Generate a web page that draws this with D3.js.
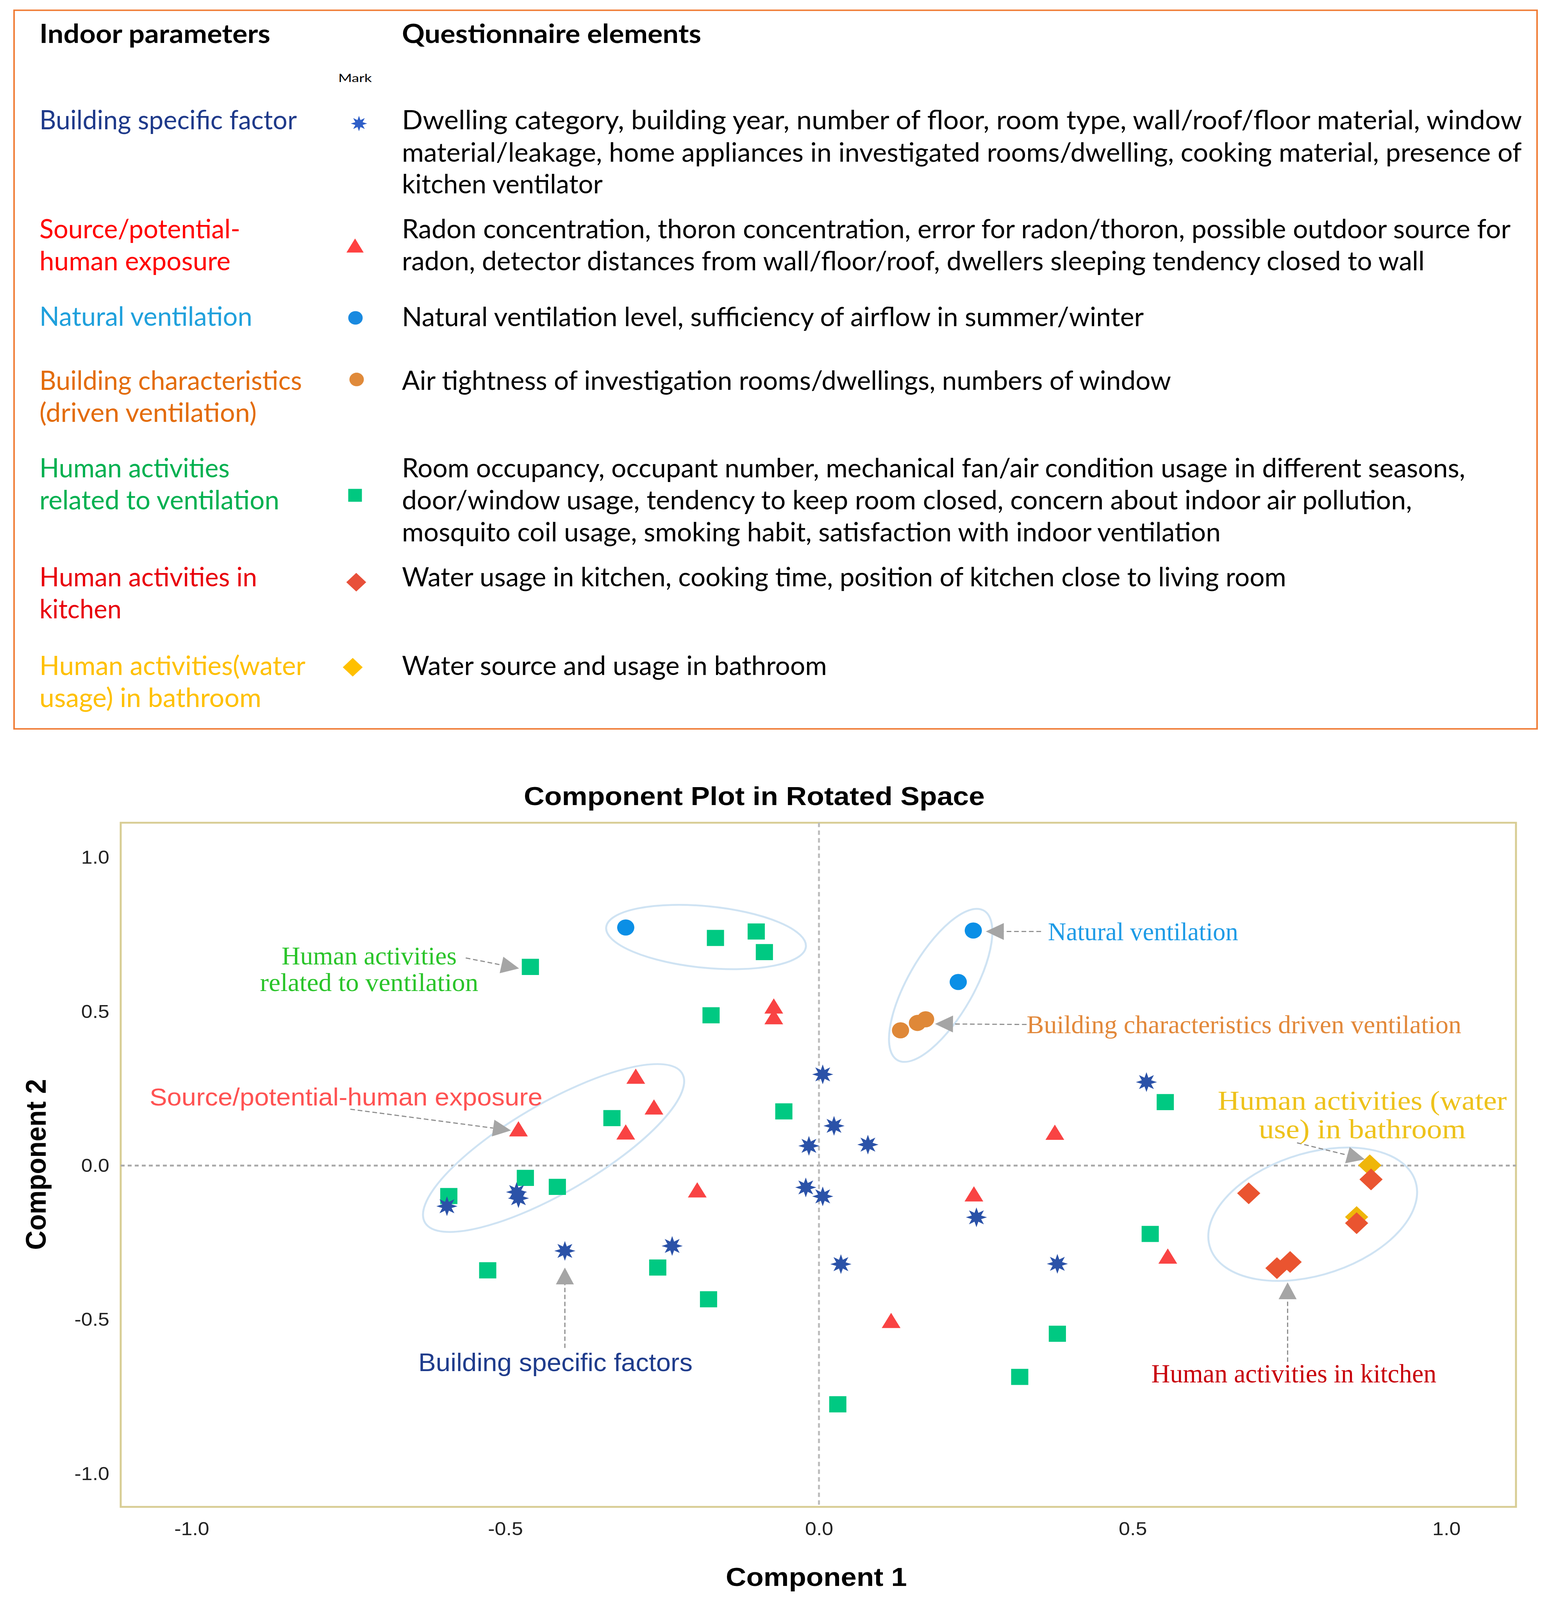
<!DOCTYPE html>
<html lang="en">
<head>
<meta charset="UTF-8">
<title>Component Plot in Rotated Space</title>
<script src="https://d3js.org/d3.v7.min.js"></script>
<style>
  html, body { margin: 0; padding: 0; width: 100%; height: 100%; overflow: hidden; background: #fff; }
  svg { display: block; }
</style>
</head>
<body>
<script>
const width = 3963, height = 4364;

// ---- table content ----
const paramNames = [
  ["Building specific factor"],
  ["Source/potential-", "human exposure"],
  ["Natural ventilation"],
  ["Building characteristics", "(driven ventilation)"],
  ["Human activities", "related to ventilation"],
  ["Human activities in", "kitchen"],
  ["Human activities(water", "usage) in bathroom"]
];
const questionnaire = [
  ["Dwelling category, building year, number of floor, room type, wall/roof/floor material, window",
   "material/leakage, home appliances in investigated rooms/dwelling, cooking material, presence of",
   "kitchen ventilator"],
  ["Radon concentration, thoron concentration, error for radon/thoron, possible outdoor source for",
   "radon, detector distances from wall/floor/roof, dwellers sleeping tendency closed to wall"],
  ["Natural ventilation level, sufficiency of airflow in summer/winter"],
  ["Air tightness of investigation rooms/dwellings, numbers of window"],
  ["Room occupancy, occupant number, mechanical fan/air condition usage in different seasons,",
   "door/window usage, tendency to keep room closed, concern about indoor air pollution,",
   "mosquito coil usage, smoking habit, satisfaction with indoor ventilation"],
  ["Water usage in kitchen, cooking time, position of kitchen close to living room"],
  ["Water source and usage in bathroom"]
];

// ---- component loadings [Component 1, Component 2] ----
const buildingSpecific = [
  [0.006, 0.296], [0.024, 0.129], [-0.016, 0.064], [0.078, 0.068], [-0.021, -0.071],
  [0.006, -0.100], [0.522, 0.271], [0.251, -0.168], [0.035, -0.320], [0.380, -0.319],
  [-0.593, -0.132], [-0.482, -0.086], [-0.479, -0.106], [-0.405, -0.277], [-0.234, -0.261]
];
const sourceExposure = [
  [-0.072, 0.510], [-0.072, 0.475], [-0.292, 0.282], [-0.263, 0.182], [-0.308, 0.101],
  [-0.479, 0.111], [-0.194, -0.087], [0.376, 0.100], [0.247, -0.100], [0.556, -0.302],
  [0.115, -0.511]
];
const naturalVentilation = [[-0.308, 0.773], [0.246, 0.763], [0.222, 0.596]];
const buildingCharacteristics = [[0.130, 0.439], [0.157, 0.463], [0.170, 0.475]];
const humanVentilation = [
  [-0.460, 0.645], [-0.165, 0.739], [-0.100, 0.760], [-0.087, 0.693], [-0.172, 0.488],
  [-0.056, 0.176], [-0.330, 0.154], [0.552, 0.206], [-0.590, -0.099], [-0.468, -0.040],
  [-0.417, -0.069], [-0.528, -0.340], [-0.257, -0.331], [-0.176, -0.434], [0.528, -0.222],
  [0.380, -0.546], [0.320, -0.686], [0.030, -0.775]
];
const kitchenActivities = [[0.880, -0.045], [0.685, -0.090], [0.857, -0.187], [0.730, -0.333], [0.751, -0.313]];
const bathroomActivities = [[0.878, 0.001], [0.857, -0.167]];

const axisTicks = [-1.0, -0.5, 0.0, 0.5, 1.0];

// ---- layout ----
// drawn in a fixed 3963x4364 coordinate space, stretched to whatever viewport we get
const svg = d3.select("body").append("svg")
  .attr("width", "100%")
  .attr("height", "100%")
  .attr("viewBox", `0 0 ${width} ${height}`)
  .attr("preserveAspectRatio", "none")
  .style("background", "#fff");

// text squeezed/stretched horizontally to a measured width (stand-in fonts differ from the original)
function fitText(parent, str, x, y, target, anchor = "start") {
  const t = parent.append("text")
    .attr("text-anchor", anchor)
    .attr("dominant-baseline", "central")
    .text(str);
  const w = t.node().getComputedTextLength() || target;
  t.attr("transform", `translate(${x},${y}) scale(${target / w},1)`);
  return t;
}

// custom 8-spoke asterisk marker
const symbolAsterisk = {
  draw(ctx, size) {
    const r = Math.sqrt(size) / 2, ri = r * 0.48;
    for (let i = 0; i < 16; i++) {
      const a = i * Math.PI / 8 - Math.PI / 2;
      const rr = i % 2 ? ri : r;
      if (i === 0) ctx.moveTo(rr * Math.cos(a), rr * Math.sin(a));
      else ctx.lineTo(rr * Math.cos(a), rr * Math.sin(a));
    }
    ctx.closePath();
  }
};

const markers = {
  asterisk: { type: symbolAsterisk, size: 2916, legendSize: 1764, rot: 0, color: "#2b52a8", legendColor: "#2f5fc8" },
  triangle: { type: d3.symbolTriangle, size: 998, legendSize: 840, rot: 0, color: "#f94343", legendColor: "#ff4040" },
  circle: { type: d3.symbolCircle, size: 1521, legendSize: 1075, rot: 0, color: "#0b8fe6", legendColor: "#1a8ae0" },
  circleOrange: { type: d3.symbolCircle, size: 1521, legendSize: 1075, rot: 0, color: "#df8838", legendColor: "#e08a3a" },
  square: { type: d3.symbolSquare, size: 1936, legendSize: 1225, rot: 0, color: "#00c982", legendColor: "#00c880" },
  diamond: { type: d3.symbolSquare, size: 1764, legendSize: 1296, rot: 45, color: "#ea5430", legendColor: "#e8503a" },
  diamondYellow: { type: d3.symbolSquare, size: 1764, legendSize: 1296, rot: 45, color: "#efb60a", legendColor: "#ffc000" }
};

// ================= TABLE =================
const tableFont = "Lato, 'Open Sans', sans-serif";
svg.append("rect")
  .attr("x", 36).attr("y", 28).attr("width", 3899).attr("height", 1960)
  .attr("fill", "none").attr("stroke", "#f07c35").attr("stroke-width", 4);

const header = svg.append("g").attr("font-family", tableFont).attr("font-weight", "bold")
  .attr("font-size", 72).attr("fill", "#000");
fitText(header, "Indoor parameters", 101, 89, 591);
fitText(header, "Questionnaire elements", 1029, 89, 766);
const markHead = svg.append("g").attr("font-family", tableFont).attr("font-size", 31);
fitText(markHead, "Mark", 909, 212, 86, "middle");

const rowTop = [325, 622, 861, 1035, 1274, 1571, 1813];
const lineStep = 87.5;
const paramColors = ["#1f3a8a", "#ff0000", "#1fa0dc", "#e36c0a", "#00b050", "#e8000b", "#ffc000"];
const nameEnds = [[760], [615, 590], [646], [773, 657], [588, 715], [658, 311], [782, 669]];
const descEnds = [[3896, 3896, 1543], [3867, 3647], [2928], [2998], [3751, 3615, 3125], [3293], [2117]];
const legendPos = [[919, 337], [909, 676], [910, 867], [913, 1035], [909, 1351], [912, 1588], [903, 1820]];
const legendKeys = ["asterisk", "triangle", "circle", "circleOrange", "square", "diamond", "diamondYellow"];

const rows = svg.append("g").attr("font-family", tableFont).attr("font-size", 72);
paramNames.forEach((lines, i) => {
  lines.forEach((t, j) => {
    fitText(rows, t, 101, rowTop[i] + j * lineStep, nameEnds[i][j] - 101).attr("fill", paramColors[i]);
  });
  questionnaire[i].forEach((t, j) => {
    fitText(rows, t, 1029, rowTop[i] + j * lineStep, descEnds[i][j] - 1029).attr("fill", "#000");
  });
  const m = markers[legendKeys[i]];
  svg.append("path")
    .attr("d", d3.symbol().type(m.type).size(m.legendSize)())
    .attr("transform", `translate(${legendPos[i][0]},${legendPos[i][1]}) rotate(${m.rot})`)
    .attr("fill", m.legendColor);
});

// ================= CHART =================
const x = d3.scaleLinear().domain([-1.113, 1.111]).range([309, 3881]);
const y = d3.scaleLinear().domain([-1.108, 1.113]).range([4110, 2244]);
const sans = "'Liberation Sans', Arial, sans-serif";
const serif = "'Liberation Serif', 'Times New Roman', serif";

const titles = svg.append("g").attr("font-family", sans).attr("font-weight", "bold")
  .attr("font-size", 72).attr("fill", "#000");
fitText(titles, "Component Plot in Rotated Space", 1931, 2171, 1180, "middle");

// frame
svg.append("rect")
  .attr("x", x.range()[0]).attr("y", y.range()[1])
  .attr("width", x.range()[1] - x.range()[0]).attr("height", y.range()[0] - y.range()[1])
  .attr("fill", "#fff").attr("stroke", "#d8cd94").attr("stroke-width", 5);

// reference lines at 0
svg.append("line")
  .attr("x1", x.range()[0]).attr("x2", x.range()[1])
  .attr("y1", y(0)).attr("y2", y(0))
  .attr("stroke", "#a9a9a9").attr("stroke-width", 5).attr("stroke-dasharray", "10,8");
svg.append("line")
  .attr("x1", x(0)).attr("x2", x(0))
  .attr("y1", y.range()[1]).attr("y2", y.range()[0])
  .attr("stroke", "#bdbdbd").attr("stroke-width", 5).attr("stroke-dasharray", "12,9");

// axes
const fmt = d => d.toFixed(1);
const gy = svg.append("g").attr("transform", `translate(${x.range()[0]},0)`)
  .call(d3.axisLeft(y).tickValues(axisTicks).tickFormat(fmt).tickSize(0).tickPadding(29));
const gx = svg.append("g").attr("transform", `translate(0,${y.range()[0]})`)
  .call(d3.axisBottom(x).tickValues(axisTicks).tickFormat(fmt).tickSize(0).tickPadding(40));
[gx, gy].forEach(g => {
  g.select(".domain").remove();
  g.selectAll("text").attr("font-family", sans).attr("font-size", 52).attr("fill", "#222");
});

fitText(titles, "Component 1", 2090, 4300, 464, "middle");
svg.append("text")
  .attr("transform", "translate(92,3176) rotate(-90)")
  .attr("text-anchor", "middle").attr("dominant-baseline", "central")
  .attr("font-family", sans).attr("font-weight", "bold")
  .attr("font-size", 72).attr("textLength", 466).attr("lengthAdjust", "spacingAndGlyphs")
  .text("Component 2");

// group ellipses: centre in data units, semi-axes in px, rotation in degrees
const groups = [
  { cx: -0.180, cy: 0.742, rx: 257, ry: 84, rot: 6 },
  { cx: 0.194, cy: 0.585, rx: 232, ry: 85, rot: -62 },
  { cx: -0.423, cy: 0.057, rx: 387, ry: 120, rot: -32 },
  { cx: 0.787, cy: -0.158, rx: 278, ry: 165, rot: -20 }
];
svg.append("g").selectAll("ellipse").data(groups).join("ellipse")
  .attr("transform", d => `translate(${x(d.cx)},${y(d.cy)}) rotate(${d.rot})`)
  .attr("rx", d => d.rx).attr("ry", d => d.ry)
  .attr("fill", "none").attr("stroke", "#cfe3f3").attr("stroke-width", 5);

// points, in drawing order
const series = [
  { data: humanVentilation, key: "square" },
  { data: sourceExposure, key: "triangle" },
  { data: naturalVentilation, key: "circle" },
  { data: buildingCharacteristics, key: "circleOrange" },
  { data: buildingSpecific, key: "asterisk" },
  { data: bathroomActivities, key: "diamondYellow" },
  { data: kitchenActivities, key: "diamond" }
];
series.forEach(s => {
  const m = markers[s.key];
  svg.append("g").selectAll("path").data(s.data).join("path")
    .attr("d", d3.symbol().type(m.type).size(m.size)())
    .attr("transform", d => `translate(${x(d[0])},${y(d[1])}) rotate(${m.rot})`)
    .attr("fill", m.color);
});

// annotation arrows (data coords)
const arrows = [
  { from: [-0.563, 0.674], to: [-0.478, 0.640] },
  { from: [-0.747, 0.183], to: [-0.491, 0.114] },
  { from: [0.354, 0.760], to: [0.266, 0.760] },
  { from: [0.331, 0.458], to: [0.185, 0.460] },
  { from: [0.762, 0.074], to: [0.870, 0.020] },
  { from: [0.747, -0.637], to: [0.747, -0.379] },
  { from: [-0.405, -0.592], to: [-0.405, -0.331] }
];
const headLen = 46, headHalf = 23;
arrows.forEach(a => {
  const x0 = x(a.from[0]), y0 = y(a.from[1]), x1 = x(a.to[0]), y1 = y(a.to[1]);
  const L = Math.hypot(x1 - x0, y1 - y0), ux = (x1 - x0) / L, uy = (y1 - y0) / L;
  const bx = x1 - ux * headLen, by = y1 - uy * headLen;
  svg.append("line").attr("x1", x0).attr("y1", y0).attr("x2", bx).attr("y2", by)
    .attr("stroke", "#8c8c8c").attr("stroke-width", 3).attr("stroke-dasharray", "12,7");
  svg.append("path")
    .attr("d", `M${x1},${y1}L${bx - uy * headHalf},${by + ux * headHalf}L${bx + uy * headHalf},${by - ux * headHalf}Z`)
    .attr("fill", "#a5a5a5");
});

// annotation labels
const labels = [
  { t: "Human activities", x: -0.717, y: 0.681, w: 448, anchor: "middle", font: serif, size: 70, color: "#2ac42a" },
  { t: "related to ventilation", x: -0.717, y: 0.595, w: 559, anchor: "middle", font: serif, size: 70, color: "#2ac42a" },
  { t: "Source/potential-human exposure", x: -1.067, y: 0.223, w: 1006, anchor: "start", font: sans, size: 68, color: "#ff5252" },
  { t: "Natural ventilation", x: 0.365, y: 0.760, w: 487, anchor: "start", font: serif, size: 70, color: "#1e9be6" },
  { t: "Building characteristics driven ventilation", x: 0.331, y: 0.458, w: 1113, anchor: "start", font: serif, size: 70, color: "#e2883a" },
  { t: "Human activities (water", x: 0.866, y: 0.210, w: 740, anchor: "middle", font: serif, size: 74, color: "#eec21b" },
  { t: "use) in bathroom", x: 0.866, y: 0.118, w: 530, anchor: "middle", font: serif, size: 74, color: "#eec21b" },
  { t: "Human activities in kitchen", x: 0.757, y: -0.675, w: 730, anchor: "middle", font: serif, size: 72, color: "#c8000a" },
  { t: "Building specific factors", x: -0.420, y: -0.638, w: 702, anchor: "middle", font: sans, size: 70, color: "#1f3c8c" }
];
const labelLayer = svg.append("g");
labels.forEach(d => {
  const g = labelLayer.append("g").attr("font-family", d.font).attr("font-size", d.size).attr("fill", d.color);
  fitText(g, d.t, x(d.x), y(d.y), d.w, d.anchor);
});
</script>
</body>
</html>
